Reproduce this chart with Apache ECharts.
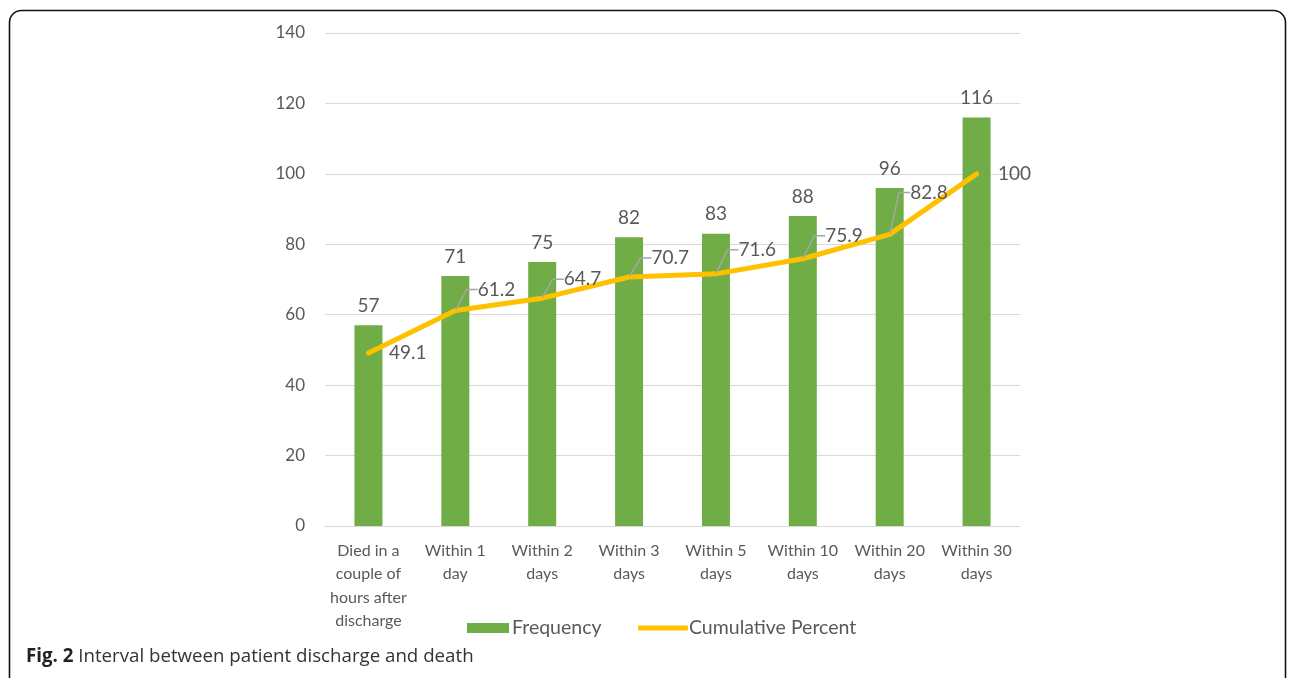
<!DOCTYPE html>
<html><head><meta charset="utf-8">
<script src="https://cdn.jsdelivr.net/npm/echarts@6/dist/echarts.min.js"></script>
<style>html,body{margin:0;padding:0;background:#fff}#c{width:1292px;height:678px}</style>
</head><body><div id="c"></div>
<script>
var categories = ["Died in a\ncouple of\nhours after\ndischarge","Within 1\nday","Within 2\ndays","Within 3\ndays","Within 5\ndays","Within 10\ndays","Within 20\ndays","Within 30\ndays"];
var frequency = [57,71,75,82,83,88,96,116];
var cumulativePercent = [49.1,61.2,64.7,70.7,71.6,75.9,82.8,100];
var yTicks = {min:0,max:140,interval:20};
// label placement for the cumulative labels (dx, dy in px)
var labelOffsets = [[14,0],[16,-21],[15,-19],[16,-19],[16,-24],[16,-23],[14,-42],[15,0]];
var leaderShown = [false,true,true,true,true,true,true,false];

var chart = echarts.init(document.getElementById('c'));
var txt = '#595959';
var font = 'Lato';
chart.setOption({
  animation:false,
  textStyle:{fontFamily:font},
  grid:{left:325,right:272,top:33,bottom:152},
  xAxis:{type:'category',data:categories,
    axisLine:{lineStyle:{color:'#d9d9d9'}},axisTick:{show:false},
    axisLabel:{color:txt,fontSize:16,lineHeight:23.5,margin:13,interval:0,fontFamily:font}},
  yAxis:{type:'value',min:yTicks.min,max:yTicks.max,interval:yTicks.interval,
    axisLine:{show:false},axisTick:{show:false},
    splitLine:{lineStyle:{color:'#d9d9d9'}},
    axisLabel:{color:txt,fontSize:17,margin:20,fontFamily:font}},
  legend:[{data:[{name:'Frequency',icon:'rect'}],left:462,top:613,itemWidth:42,itemHeight:10,itemGap:6,
      textStyle:{color:txt,fontSize:19.5,fontFamily:font,padding:[0,0,0,-2]}},
    {data:[{name:'Cumulative Percent',icon:'roundRect'}],left:633,top:613,itemWidth:50,itemHeight:5,
      textStyle:{color:txt,fontSize:19.5,fontFamily:font,padding:[0,0,0,-4]}}],
  graphic:[
    {type:'rect',shape:{x:9.5,y:10.5,width:1276,height:720,r:12},style:{fill:'none',stroke:'#111',lineWidth:1.6},silent:true},
    {type:'text',left:26,top:647,style:{text:'{b|Fig. 2} Interval between patient discharge and death',
      rich:{b:{fontWeight:'bold',fontSize:18.7,fontFamily:'Open Sans',fill:'#222'}},
      fontSize:18.7,fontFamily:'Open Sans',fill:'#333'}}
  ],
  series:[
    {name:'Frequency',type:'bar',data:frequency,barWidth:28,itemStyle:{color:'#70ad47'},
      label:{show:true,position:'top',distance:10,color:txt,fontSize:19,fontFamily:font}},
    {name:'Cumulative Percent',type:'line',
      data:cumulativePercent.map(function(v,i){return {value:v,labelLine:{show:leaderShown[i]}};}),
      symbol:'circle',symbolSize:1,showSymbol:true,
      lineStyle:{color:'#ffc000',width:5,cap:'round'},itemStyle:{color:'#ffc000'},
      label:{show:true,position:'right',distance:0,color:txt,fontSize:19,fontFamily:font,padding:[0,0,0,6]},
      labelLine:{show:true,length2:11,lineStyle:{color:'#a6a6a6',width:1.5}},
      labelLayout:function(p){var o=labelOffsets[p.dataIndex];return {dx:o[0],dy:o[1]};}}
  ]
});
</script></body></html>
